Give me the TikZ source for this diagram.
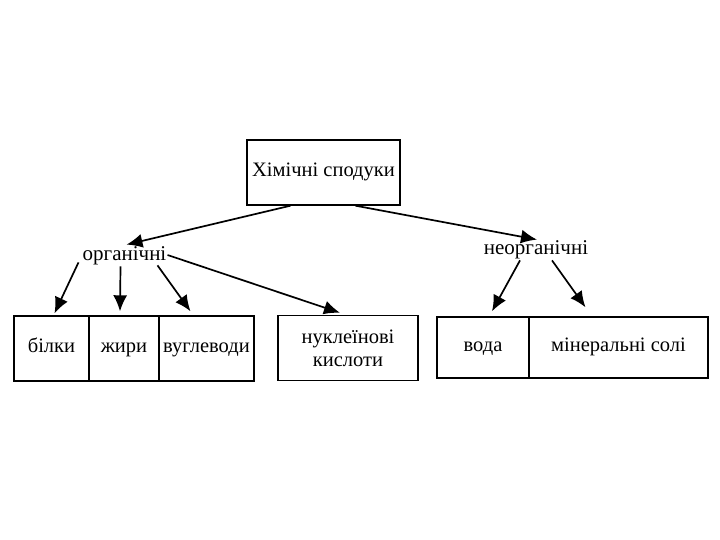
\documentclass[tikz,border=0pt]{standalone}
\usepackage{fontspec}
\setmainfont{Liberation Serif}
\usetikzlibrary{arrows.meta}
\begin{document}
\begin{tikzpicture}[x=1pt,y=1pt,
  box/.style={draw, line width=1.4pt, inner sep=0pt, font=\fontsize{20.5}{23}\selectfont},
  one/.style={text height=10pt, text depth=2pt},
  lbl/.style={inner sep=1pt, font=\fontsize{21}{23}\selectfont},
  arr/.style={line width=1.7pt, -{Latex[length=16pt,width=14pt]}}]
\fill[white] (0,0) rectangle (720,-540);
\useasboundingbox (0,0) rectangle (720,-540);
% top
\node[box, one, minimum width=153pt, minimum height=65pt] (top) at (323.5,-172.5) {Хімічні сподуки};
% labels
\node[lbl] (org) at (124.5,-256) {органічні};
\node[lbl] (neorg) at (536,-250) {неорганічні};
% left group
\node[box, one, minimum width=75pt, minimum height=65pt] (bilky) at (51.5,-348.5) {білки};
\node[box, one, minimum width=70pt, minimum height=65pt] (zhyry) at (124,-348.5) {жири};
\node[box, one, minimum width=95pt, minimum height=65pt] (vugl) at (206.5,-348.5) {вуглеводи};
% nucleic
\node[box, minimum width=140pt, minimum height=65pt, align=center] (nukl) at (348,-348) {нуклеїнові\\кислоти};
% right group
\node[box, one, minimum width=92pt, minimum height=61pt] (voda) at (483,-347.5) {вода};
\node[box, one, minimum width=179pt, minimum height=61pt] (min) at (618.5,-347.5) {мінеральні солі};
% arrows
\draw[arr] ([xshift=-33pt]top.south) -- ([xshift=2pt,yshift=1pt]org.north);
\draw[arr] ([xshift=32pt]top.south) -- ([xshift=1pt]neorg.north);
\draw[arr] ([xshift=-46pt,yshift=4pt]org.south) -- ([xshift=3pt,yshift=2pt]bilky.north);
\draw[arr] ([xshift=-4pt]org.south) -- ([xshift=-4pt,yshift=4pt]zhyry.north);
\draw[arr] ([xshift=33pt,yshift=1pt]org.south) -- ([xshift=-16pt,yshift=4pt]vugl.north);
\draw[arr] ([yshift=1pt]org.east) -- ([xshift=-8pt,yshift=2pt]nukl.north);
\draw[arr] ([xshift=-16pt]neorg.south) -- ([xshift=9pt,yshift=5pt]voda.north);
\draw[arr] ([xshift=16pt]neorg.south) -- ([xshift=-33pt,yshift=9pt]min.north);
\end{tikzpicture}
\end{document}
